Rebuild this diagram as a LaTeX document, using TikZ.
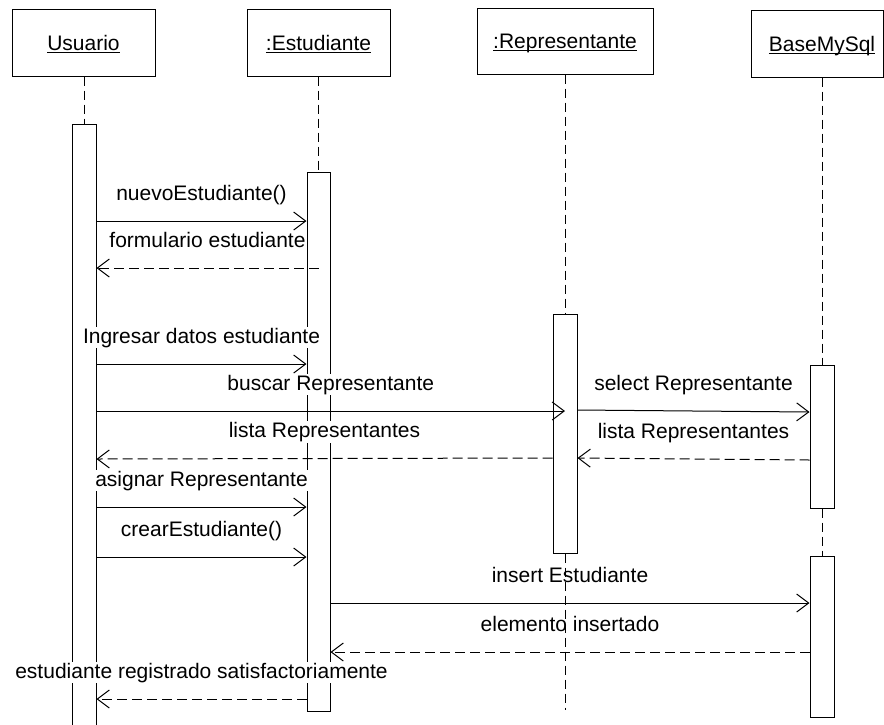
\documentclass[tikz,border=0pt]{standalone}
\usepackage{fontspec}
\setmainfont{Liberation Sans}
\usetikzlibrary{arrows.meta,calc}
\newcommand\myul[1]{\setbox0\hbox{#1}\rlap{\rule[-2.6pt]{\wd0}{1.1pt}}\box0}
\begin{document}
\begin{tikzpicture}[x=1pt,y=-1pt, line width=1pt, font=\fontsize{21}{25}\selectfont,
 obj/.style={draw, fill=white, inner sep=0pt, minimum width=143pt, minimum height=67pt, text height=17pt, text depth=2pt},
 actbar/.style={draw, fill=white, inner sep=0pt, minimum width=24pt},
 life/.style={dash pattern=on 9pt off 5pt},
 msg/.style={-{Straight Barb[length=12pt,width=18pt]}},
 ret/.style={msg, dash pattern=on 10pt off 5pt},
 lbl/.style={fill=white, inner sep=1pt, anchor=base, yshift=21pt}]
\useasboundingbox (0,0) rectangle (884,724);
% objects
\node[obj] (ubox) at (83.5,42.5) {\myul{Usuario}};
\node[obj] (ebox) at (318.5,42.5) {\myul{:Estudiante}};
\node[obj, minimum width=176pt, minimum height=66pt] (rbox) at (565,41) {\myul{:Representante}};
\node[obj, minimum width=132.5pt] (bbox) at (817.25,43.5) {\hspace*{9.5pt}\myul{BaseMySql}};
% activation bars
\node[actbar, minimum height=616pt] (ubar) at (84,432) {};
\node[actbar, minimum height=539pt, minimum width=23pt] (ebar) at (318.5,441.5) {};
\node[actbar, minimum height=239pt] (rbar) at (565,433.5) {};
\node[actbar, minimum height=143pt] (bbar1) at (822,436.5) {};
\node[actbar, minimum height=161pt] (bbar2) at (822,636.5) {};
% lifelines
\draw[life] (ubar.north |- ubox.south) -- (ubar.north);
\draw[life] (ebar.north |- ebox.south) -- (ebar.north);
\draw[life] (rbar.north |- rbox.south) -- (rbar.north);
\draw[life] (bbar1.north |- bbox.south) -- (bbar1.north);
\draw[life] (bbar1.south) -- (bbar2.north);
% messages
\draw[msg] (ubar.east |- 0,221) -- node[lbl]{nuevoEstudiante()} (ebar.west |- 0,221);
\draw[ret] (ebar.center |- 0,268) -- node[lbl]{formulario estudiante} (ubar.east |- 0,268);
\draw[msg] (ubar.east |- 0,364) -- node[lbl]{Ingresar datos estudiante} (ebar.west |- 0,364);
\draw[msg] (ubar.east |- 0,411) -- node[lbl]{buscar Representante} (rbar.center |- 0,411);
\draw[msg] (rbar.east |- 0,410) -- node[lbl]{select Representante} (bbar1.west |- 0,412);
\draw[ret] (bbar1.west |- 0,460) -- node[lbl]{lista Representantes} (rbar.east |- 0,458);
\draw[ret] (rbar.west |- 0,458) -- node[lbl]{lista Representantes} (ubar.east |- 0,459);
\draw[msg] (ubar.east |- 0,507) -- node[lbl]{asignar Representante} (ebar.west |- 0,507);
\draw[msg] (ubar.east |- 0,557) -- node[lbl]{crearEstudiante()} (ebar.west |- 0,557);
\draw[msg] (ebar.east |- 0,603) -- node[lbl]{insert Estudiante} (bbar2.west |- 0,603);
\draw[ret] (bbar2.west |- 0,652) -- node[lbl]{elemento insertado} (ebar.east |- 0,652);
\draw[ret] (ebar.west |- 0,699) -- node[lbl]{estudiante registrado satisfactoriamente} (ubar.east |- 0,699);
% lower lifeline of Representante (drawn over labels)
\coordinate (rend) at (565,710);
\draw[life] (rbar.south) -- (rend);
\end{tikzpicture}
\end{document}
